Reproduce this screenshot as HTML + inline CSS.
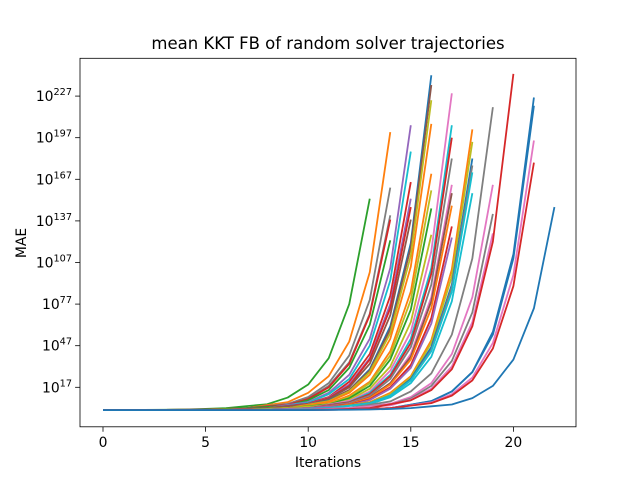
<!DOCTYPE html>
<html><head><meta charset="utf-8"><style>
html,body{margin:0;padding:0;background:#fff;}
svg{display:block;font-family:"DejaVu Sans","Liberation Sans",sans-serif;}
</style></head><body>
<svg id="chart" width="640" height="480" viewBox="0 0 640 480">
<rect x="0" y="0" width="640" height="480" fill="#fff"/>
<text x="328" y="49" text-anchor="middle" font-size="16.5" fill="#000">mean KKT FB of random solver trajectories</text>
<text x="328" y="467" text-anchor="middle" font-size="13.9" fill="#000">Iterations</text>
<text x="26" y="243" text-anchor="middle" font-size="13.9" fill="#000" transform="rotate(-90 26 243)">MAE</text>
<g id="lines"></g>
<g id="axes"></g>
</svg>
<script>
// x ticks and y tick exponents
const xTicks = [0, 5, 10, 15, 20];
const yTickExps = [17, 47, 77, 107, 137, 167, 197, 227];
const colors = ["#1f77b4","#ff7f0e","#2ca02c","#d62728","#9467bd","#8c564b","#e377c2","#7f7f7f","#bcbd22","#17becf"];
// each series: log10(MAE) per iteration
const s01 = [0.6,0.6,0.7,0.8,1,1.4,2, 3.4,4.8,9.6,19,38,77,153];
const s02 = [0.6,0.6,0.6,0.7,0.8,1,1.4,2, 4.1,6.3,13,25,50,100,201];
const s03 = [0.6,0.6,0.6,0.7,0.8,1,1.4,2, 3.5,5,10,20,40,80,161];
const s04 = [0.6,0.6,0.6,0.7,0.8,1,1.4,2, 3.2,4.4,8.8,18,35,70,141];
const s05 = [0.6,0.6,0.6,0.7,0.8,1,1.4,2, 3.2,4.3,8.6,17,34,69,138];
const s06 = [0.6,0.6,0.6,0.7,0.8,1,1.4,2, 2.9,3.8,7.7,15,31,62,123];
const s07 = [0.6,0.6,0.6,0.6,0.7,0.8,1,1.4,2, 4.2,6.4,13,26,52,103,206];
const s08 = [0.6,0.6,0.6,0.6,0.7,0.8,1,1.4,2, 3.9,5.8,12,23,47,94,187];
const s09 = [0.6,0.6,0.6,0.6,0.7,0.8,1,1.4,2, 3.6,5.2,10,21,41,83,165];
const s10 = [0.6,0.6,0.6,0.6,0.7,0.8,1,1.4,2, 3.4,4.8,9.6,19,38,77,153];
const s11 = [0.6,0.6,0.6,0.6,0.7,0.8,1,1.4,2, 3.3,4.6,9.2,18,37,74,147];
const s12 = [0.6,0.6,0.6,0.6,0.7,0.8,1,1.4,2, 3.2,4.3,8.6,17,34,69,138];
const s13 = [0.6,0.6,0.6,0.6,0.6,0.7,0.8,1,1.4,2, 4.8,7.6,15,30,61,121,242];
const s14 = [0.6,0.6,0.6,0.6,0.6,0.7,0.8,1,1.4,2, 4.7,7.3,15,29,59,118,235];
const s15 = [0.6,0.6,0.6,0.6,0.6,0.7,0.8,1,1.4,2, 4.5,7,14,28,56,112,224];
const s16 = [0.6,0.6,0.6,0.6,0.6,0.7,0.8,1,1.4,2, 4.2,6.5,13,26,52,104,207];
const s17 = [0.6,0.6,0.6,0.6,0.6,0.7,0.8,1,1.4,2, 3.7,5.3,11,21,43,86,171];
const s18 = [0.6,0.6,0.6,0.6,0.6,0.7,0.8,1,1.4,2, 3.5,5,9.9,20,40,80,159];
const s19 = [0.6,0.6,0.6,0.6,0.6,0.7,0.8,1,1.4,2, 3.3,4.6,9.1,18,37,73,146];
const s20 = [0.6,0.6,0.6,0.6,0.6,0.7,0.8,1,1.4,2, 3,4,7.9,16,32,64,127];
const s21 = [0.6,0.6,0.6,0.6,0.6,0.6,0.7,0.8,1,1.4,2, 4.6,7.2,14,29,57,115,229];
const s22 = [0.6,0.6,0.6,0.6,0.6,0.6,0.7,0.8,1,1.4,2, 4.2,6.4,13,26,52,103,206];
const s23 = [0.6,0.6,0.6,0.6,0.6,0.6,0.7,0.8,1,1.4,2, 4.1,6.2,12,25,49,99,197];
const s24 = [0.6,0.6,0.6,0.6,0.6,0.6,0.7,0.8,1,1.4,2, 3.8,5.7,11,23,46,91,182];
const s25 = [0.6,0.6,0.6,0.6,0.6,0.6,0.7,0.8,1,1.4,2, 3.5,5.1,10,20,41,82,163];
const s26 = [0.6,0.6,0.6,0.6,0.6,0.6,0.7,0.8,1,1.4,2, 3.5,4.9,9.8,20,39,79,157];
const s27 = [0.6,0.6,0.6,0.6,0.6,0.6,0.7,0.8,1,1.4,2, 3.3,4.6,9.3,19,37,74,148];
const s28 = [0.6,0.6,0.6,0.6,0.6,0.6,0.7,0.8,1,1.4,2, 3.1,4.2,8.3,17,33,67,133];
const s29 = [0.6,0.6,0.6,0.6,0.6,0.6,0.7,0.8,1,1.4,2, 3,3.9,7.8,16,31,63,125];
const s30 = [0.6,0.6,0.6,0.6,0.6,0.6,0.6,0.7,0.8,1,1.4,2, 4.2,6.3,13,25,51,102,203];
const s31 = [0.6,0.6,0.6,0.6,0.6,0.6,0.6,0.7,0.8,1,1.4,2, 4,6.1,12,24,49,97,194];
const s32 = [0.6,0.6,0.6,0.6,0.6,0.6,0.6,0.7,0.8,1,1.4,2, 3.8,5.7,11,23,46,91,182];
const s33 = [0.6,0.6,0.6,0.6,0.6,0.6,0.6,0.7,0.8,1,1.4,2, 3.8,5.5,11,22,44,89,177];
const s34 = [0.6,0.6,0.6,0.6,0.6,0.6,0.6,0.7,0.8,1,1.4,2, 3.7,5.4,11,22,43,86,172];
const s35 = [0.6,0.6,0.6,0.6,0.6,0.6,0.6,0.7,0.8,1,1.4,2, 3.5,4.9,9.8,20,39,79,157];
const s36 = [0.6,0.6,0.6,0.6,0.6,0.6,0.6,0.6,0.7,0.8,1,1.4,2, 4.4,6.8,14,27,55,110,219];
const s37 = [0.6,0.6,0.6,0.6,0.6,0.6,0.6,0.6,0.7,0.8,1,1.4,2, 3.5,5.1,10,20,41,82,163];
const s38 = [0.6,0.6,0.6,0.6,0.6,0.6,0.6,0.6,0.7,0.8,1,1.4,2, 3.2,4.4,8.9,18,36,71,142];
const s39 = [0.6,0.6,0.6,0.6,0.6,0.6,0.6,0.6,0.7,0.8,1,1.4,2, 3,4,8,16,32,64,128];
const s40 = [0.6,0.6,0.6,0.6,0.6,0.6,0.6,0.6,0.6,0.7,0.8,1,1.4,2, 4.8,7.6,15,30,61,122,243];
const s41 = [0.6,0.6,0.6,0.6,0.6,0.6,0.6,0.6,0.6,0.6,0.7,0.8,1,1.4,2, 4.5,7.1,14,28,57,113,226];
const s42 = [0.6,0.6,0.6,0.6,0.6,0.6,0.6,0.6,0.6,0.6,0.7,0.8,1,1.4,2, 4.4,6.9,14,28,55,110,220];
const s43 = [0.6,0.6,0.6,0.6,0.6,0.6,0.6,0.6,0.6,0.6,0.7,0.8,1,1.4,2, 4,6.1,12,24,49,98,195];
const s44 = [0.6,0.6,0.6,0.6,0.6,0.6,0.6,0.6,0.6,0.6,0.7,0.8,1,1.4,2, 3.8,5.6,11,22,45,90,179];
const s45 = [0.6,0.6,0.6,0.6,0.6,0.6,0.6,0.6,0.6,0.6,0.6,0.7,0.8,1,1.4,2, 3.3,4.6,9.2,18,37,74,147];
const seriesList = [s01,s02,s03,s04,s05,s06,s07,s08,s09,s10,s11,s12,s13,s14,s15,s16,s17,s18,s19,s20,s21,s22,s23,s24,s25,s26,s27,s28,s29,s30,s31,s32,s33,s34,s35,s36,s37,s38,s39,s40,s41,s42,s43,s44,s45];
const seriesColorIdx = [2,1,7,7,3,2,4,9,3,4,3,5,0,5,8,1,1,8,2,8,6,9,3,7,6,5,1,3,4,1,8,0,7,9,9,7,6,7,6,3,0,0,6,3,0];

const NS = "http://www.w3.org/2000/svg";
const L = 80, R = 576, T = 58.3, B = 426.8;
function xs(v){ return 103 + v * 20.52; }
function ys(e){ return 387.3 - (e - 17) * 1.3867; }

const lines = document.getElementById('lines');
const clip = document.createElementNS(NS,'clipPath');
clip.setAttribute('id','pc');
const cr = document.createElementNS(NS,'rect');
cr.setAttribute('x',L); cr.setAttribute('y',T); cr.setAttribute('width',R-L); cr.setAttribute('height',B-T);
clip.appendChild(cr);
document.getElementById('chart').appendChild(clip);
lines.setAttribute('clip-path','url(#pc)');
seriesList.forEach(function(s, i){
  const p = document.createElementNS(NS,'polyline');
  p.setAttribute('points', s.map(function(v,k){ return xs(k).toFixed(2)+','+ys(v).toFixed(2); }).join(' '));
  p.setAttribute('fill','none');
  p.setAttribute('stroke', colors[seriesColorIdx[i] % 10]);
  p.setAttribute('stroke-width','1.8');
  p.setAttribute('stroke-linejoin','round');
  
  
  lines.appendChild(p);
});

const axes = document.getElementById('axes');
const frame = document.createElementNS(NS,'rect');
frame.setAttribute('x',L); frame.setAttribute('y',T); frame.setAttribute('width',R-L); frame.setAttribute('height',B-T);
frame.setAttribute('fill','none'); frame.setAttribute('stroke','#000'); frame.setAttribute('stroke-width','0.8');


axes.appendChild(frame);

xTicks.forEach(function(t){
  const x = xs(t);
  const ln = document.createElementNS(NS,'line');
  ln.setAttribute('x1',x); ln.setAttribute('x2',x); ln.setAttribute('y1',B); ln.setAttribute('y2',B+4.9);
  ln.setAttribute('stroke','#000'); ln.setAttribute('stroke-width','0.8');
  
  
  axes.appendChild(ln);
  const tx = document.createElementNS(NS,'text');
  tx.setAttribute('x',x); tx.setAttribute('y',B+20); tx.setAttribute('text-anchor','middle');
  tx.setAttribute('font-size','13.9');
  tx.textContent = String(t);
  
  
  axes.appendChild(tx);
});

yTickExps.forEach(function(e){
  const y = ys(e);
  const ln = document.createElementNS(NS,'line');
  ln.setAttribute('x1',L-4.9); ln.setAttribute('x2',L); ln.setAttribute('y1',y); ln.setAttribute('y2',y);
  ln.setAttribute('stroke','#000'); ln.setAttribute('stroke-width','0.8');
  
  
  axes.appendChild(ln);
  const tx = document.createElementNS(NS,'text');
  tx.setAttribute('x',L-8); tx.setAttribute('y',y+5); tx.setAttribute('text-anchor','end');
  tx.setAttribute('font-size','13.9');
  const base = document.createElementNS(NS,'tspan');
  base.textContent = '10';
  const sup = document.createElementNS(NS,'tspan');
  sup.setAttribute('font-size','9.7'); sup.setAttribute('dy','-6');
  sup.textContent = String(e);
  tx.appendChild(base); tx.appendChild(sup);
  
  
  axes.appendChild(tx);
});
</script>
</body></html>
